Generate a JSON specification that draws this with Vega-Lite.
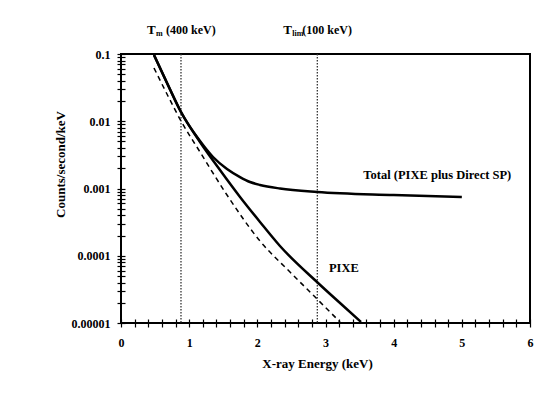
{
  "$schema": "https://vega.github.io/schema/vega-lite/v6.json",
  "autosize": "none",
  "width": 409,
  "height": 269,
  "padding": {"left": 121, "top": 54, "right": 23, "bottom": 76},
  "background": "white",
  "config": {
    "view": {"stroke": "#000", "strokeWidth": 2},
    "font": "Liberation Serif",
    "axis": {"domain": false, "labelFont": "Liberation Serif", "titleFont": "Liberation Serif", "labelFontWeight": "bold", "titleFontWeight": "bold", "labelColor": "#000", "titleColor": "#000", "labelFontSize": 12, "titleFontSize": 13, "labelOverlap": false, "labelFlush": false, "ticks": true, "tickSize": 4, "tickColor": "#000", "tickWidth": 1.2, "grid": true, "gridColor": "#000", "gridWidth": 1.2, "gridOpacity": 1, "gridDash": [4, 2000], "gridCap": "butt"}
  },
  "datasets": {
    "curves": [
      {"series": "Total", "energy": 0.484, "counts": 0.0966},
      {"series": "Total", "energy": 0.689, "counts": 0.0346},
      {"series": "Total", "energy": 0.88, "counts": 0.01374},
      {"series": "Total", "energy": 1.159, "counts": 0.00508},
      {"series": "Total", "energy": 1.35, "counts": 0.00294},
      {"series": "Total", "energy": 1.555, "counts": 0.00195},
      {"series": "Total", "energy": 1.746, "counts": 0.00148},
      {"series": "Total", "energy": 1.892, "counts": 0.00125},
      {"series": "Total", "energy": 2.039, "counts": 0.00113},
      {"series": "Total", "energy": 2.332, "counts": 0.001},
      {"series": "Total", "energy": 2.875, "counts": 0.000887},
      {"series": "Total", "energy": 4.0, "counts": 0.0008},
      {"series": "Total", "energy": 5.0, "counts": 0.000748},
      {"series": "PIXE", "energy": 0.484, "counts": 0.0966},
      {"series": "PIXE", "energy": 0.689, "counts": 0.0346},
      {"series": "PIXE", "energy": 0.88, "counts": 0.01374},
      {"series": "PIXE", "energy": 1.159, "counts": 0.00491},
      {"series": "PIXE", "energy": 1.452, "counts": 0.00188},
      {"series": "PIXE", "energy": 1.746, "counts": 0.000748},
      {"series": "PIXE", "energy": 2.039, "counts": 0.000318},
      {"series": "PIXE", "energy": 2.332, "counts": 0.0001396},
      {"series": "PIXE", "energy": 2.875, "counts": 0.0000407},
      {"series": "PIXE", "energy": 3.213, "counts": 0.0000198},
      {"series": "PIXE", "energy": 3.521, "counts": 0.00001035},
      {"series": "Dashed", "energy": 0.484, "counts": 0.0619},
      {"series": "Dashed", "energy": 0.689, "counts": 0.02374},
      {"series": "Dashed", "energy": 0.88, "counts": 0.0101},
      {"series": "Dashed", "energy": 1.159, "counts": 0.00349},
      {"series": "Dashed", "energy": 1.555, "counts": 0.0008},
      {"series": "Dashed", "energy": 2.039, "counts": 0.0001656},
      {"series": "Dashed", "energy": 2.479, "counts": 0.0000573},
      {"series": "Dashed", "energy": 2.875, "counts": 0.0000228},
      {"series": "Dashed", "energy": 3.213, "counts": 0.00001035}
    ],
    "limits": [
      {"energy": 0.88, "counts": 0.227, "main": "T", "sub": "m", "rest": "(400 keV)"},
      {"energy": 2.88, "counts": 0.227, "main": "T", "sub": "lim", "rest": "(100 keV)"}
    ],
    "labels": [
      {"energy": 4.64, "counts": 0.00159, "text": "Total (PIXE plus Direct SP)"},
      {"energy": 3.27, "counts": 0.000066, "text": "PIXE"}
    ]
  },
  "encoding": {
    "x": {
      "field": "energy", "type": "quantitative",
      "scale": {"domain": [0, 6], "nice": false, "zero": false},
      "axis": {
        "title": "X-ray Energy (keV)",
        "values": [0,0.2,0.4,0.6,0.8,1,1.2,1.4,1.6,1.8,2,2.2,2.4,2.6,2.8,3,3.2,3.4,3.6,3.8,4,4.2,4.4,4.6,4.8,5,5.2,5.4,5.6,5.8,6],
        "labelExpr": "abs(datum.value - round(datum.value)) < 0.001 ? format(datum.value, 'd') : ''",
        "gridDash": [0, 265, 4, 2000],
        "labelPadding": 10,
        "titleX": 196, "titleY": 40, "titleBaseline": "middle"
      }
    },
    "y": {
      "field": "counts", "type": "quantitative",
      "scale": {"type": "log", "domain": [0.00001, 0.1], "nice": false},
      "axis": {
        "title": "Counts/second/keV",
        "values": [0.00001,0.00002,0.00003,0.00004,0.00005,0.00006,0.00007,0.00008,0.00009,0.0001,0.0002,0.0003,0.0004,0.0005,0.0006,0.0007,0.0008,0.0009,0.001,0.002,0.003,0.004,0.005,0.006,0.007,0.008,0.009,0.01,0.02,0.03,0.04,0.05,0.06,0.07,0.08,0.09,0.1],
        "labelExpr": "abs(log(datum.value)/LN10 - round(log(datum.value)/LN10)) < 0.000001 ? format(datum.value, '.5~f') : ''",
        "labelPadding": 7,
        "titleX": -61, "titleY": 110, "titleAngle": 270, "titleAlign": "center", "titleBaseline": "middle"
      }
    }
  },
  "layer": [
    {
      "data": {"name": "limits"},
      "mark": {"type": "rule", "stroke": "#333", "strokeWidth": 1.3, "strokeDash": [1.5, 1.5]},
      "encoding": {"y": null}
    },
    {
      "data": {"name": "curves"},
      "transform": [{"filter": "datum.series === 'Dashed'"}],
      "mark": {"type": "line", "stroke": "#000", "strokeWidth": 1.5, "strokeDash": [5, 4], "interpolate": "monotone"}
    },
    {
      "data": {"name": "curves"},
      "transform": [{"filter": "datum.series === 'PIXE'"}],
      "mark": {"type": "line", "stroke": "#000", "strokeWidth": 2.5, "interpolate": "monotone"}
    },
    {
      "data": {"name": "curves"},
      "transform": [{"filter": "datum.series === 'Total'"}],
      "mark": {"type": "line", "stroke": "#000", "strokeWidth": 2.5, "interpolate": "monotone"}
    },
    {
      "data": {"name": "limits"},
      "mark": {"type": "text", "align": "left", "baseline": "middle", "dx": -34, "fontSize": 13, "fontWeight": "bold", "font": "Liberation Serif", "color": "#000"},
      "encoding": {"text": {"field": "main"}}
    },
    {
      "data": {"name": "limits"},
      "mark": {"type": "text", "align": "left", "baseline": "middle", "dx": -25, "dy": 4, "fontSize": 8, "fontWeight": "bold", "font": "Liberation Serif", "color": "#000"},
      "encoding": {"text": {"field": "sub"}}
    },
    {
      "data": {"name": "limits"},
      "mark": {"type": "text", "align": "left", "baseline": "middle", "dx": -15, "fontSize": 12, "fontWeight": "bold", "font": "Liberation Serif", "color": "#000"},
      "encoding": {"text": {"field": "rest"}}
    },
    {
      "data": {"name": "labels"},
      "mark": {"type": "text", "align": "center", "baseline": "middle", "fontSize": 12.5, "fontWeight": "bold", "font": "Liberation Serif", "color": "#000"},
      "encoding": {"text": {"field": "text"}}
    }
  ]
}
